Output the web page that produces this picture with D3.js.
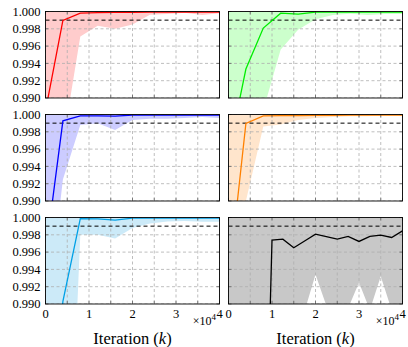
<!DOCTYPE html>
<html>
<head>
<meta charset="utf-8">
<script src="https://cdn.jsdelivr.net/npm/d3@7"></script>
<style>
  body { margin: 0; background: #fff; }
  text { font-family: "Liberation Serif", "DejaVu Serif", serif; fill: #000; }
</style>
</head>
<body>
<div class="canvas"></div>
<script>
// iterations (sampled every 4000, black run every 2500)
var iters = [0, 4000, 8000, 12000, 16000, 20000, 24000, 28000, 32000, 36000, 40000];
var itersBlack = [0, 2500, 5000, 7500, 10000, 12500, 15000, 17500, 20000, 22500,
                  25000, 27500, 30000, 32500, 35000, 37500, 40000];

// mean curves and lower bound of the min/max band (upper bound is 1.0)
var redMean = [0.9885, 0.99896, 0.99981, 0.99988, 0.9999, 0.99991, 0.99992, 0.99993, 0.99993, 0.99993, 0.99993];
var redLow = [0.960, 0.9848, 0.9971, 0.99835, 0.9980, 0.9985, 0.99962, 0.9997, 0.99985, 0.9996, 0.9998];

var greenMean = [0.9836, 0.99335, 0.99808, 0.99981, 0.9997, 0.99992, 0.99993, 0.99993, 0.99993, 0.99993, 0.99993];
var greenLow = [0.940, 0.960, 0.9886, 0.9956, 0.9979, 0.9991, 0.9996, 0.99975, 0.9996, 0.9997, 0.9997];

var blueMean = [0.9838, 0.99927, 0.99985, 0.99985, 0.99982, 0.99993, 0.99993, 0.99993, 0.99993, 0.99993, 0.99993];
var blueLow = [0.975, 0.9925, 0.9988, 0.9990, 0.9982, 0.99935, 0.9995, 0.9995, 0.9996, 0.9997, 0.9996];

var orangeMean = [0.9806, 0.99897, 0.99985, 0.99986, 0.99988, 0.9999, 0.99991, 0.99992, 0.99993, 0.99993, 0.99993];
var orangeLow = [0.975, 0.990, 0.9986, 0.99885, 0.99935, 0.9996, 0.9997, 0.9998, 0.9998, 0.9999, 0.9999];

var skyMean = [0.970, 0.9903, 0.99988, 0.99985, 0.9997, 0.99993, 0.99993, 0.99993, 0.99993, 0.99993, 0.99993];
var skyLow = [0.940, 0.950, 0.9980, 0.9980, 0.99758, 0.9988, 0.9993, 0.99955, 0.9996, 0.9995, 0.9995];

var blackMean = [0.90, 0.90, 0.90, 0.95, 0.99738, 0.9975, 0.9965, 0.99729, 0.99808, 0.9978, 0.9975,
                 0.99781, 0.99723, 0.99781, 0.99796, 0.99769, 0.99846];
var blackLow = [0.90, 0.90, 0.90, 0.90, 0.980, 0.982, 0.984, 0.9892, 0.9934, 0.9898, 0.985,
                0.9895, 0.9925, 0.9893, 0.9932, 0.9893, 0.985];

var yTicks = [0.990, 0.992, 0.994, 0.996, 0.998, 1.000];
var xTicks = [0, 10000, 20000, 30000, 40000];
var target = 0.999;

var panels = [
    {x: iters, mean: redMean, low: redLow, line: '#ff0000', fill: '#ffcccc', col: 0, row: 0},
    {x: iters, mean: greenMean, low: greenLow, line: '#00ee00', fill: '#ccffcc', col: 1, row: 0},
    {x: iters, mean: blueMean, low: blueLow, line: '#0000ff', fill: '#ccccff', col: 0, row: 1},
    {x: iters, mean: orangeMean, low: orangeLow, line: '#ff8000', fill: '#ffe5cc', col: 1, row: 1},
    {x: iters, mean: skyMean, low: skyLow, line: '#00a0e6', fill: '#cceaf8', col: 0, row: 2},
    {x: itersBlack, mean: blackMean, low: blackLow, line: '#000000', fill: '#c8c8c8', col: 1, row: 2}
];

// layout
var W = 408, H = 347,
    colX = [45.5, 228.5],
    rowY = [11.5, 114.5, 217.5],
    pw = 174,
    ph = 86.5;

var svg = d3.select('.canvas').append('svg')
    .attr('width', W)
    .attr('height', H);

var x = d3.scaleLinear().domain([0, 40000]).range([0, pw]);
var y = d3.scaleLinear().domain([0.990, 1.000]).range([ph, 0]);
var gridX = d3.range(0, 40001, 5000);

panels.forEach(function (p, i) {
    var g = svg.append('g')
        .attr('transform', 'translate(' + colX[p.col] + ',' + rowY[p.row] + ')');

    g.append('clipPath').attr('id', 'clip' + i)
        .append('rect').attr('width', pw).attr('height', ph);

    var body = g.append('g').attr('clip-path', 'url(#clip' + i + ')');

    var pts = p.x.map(function (v, j) {
        return {x: v, m: p.mean[j], lo: p.low[j], hi: 1.0};
    });

    body.append('path')
        .datum(pts)
        .attr('fill', p.fill)
        .attr('d', d3.area()
            .x(function (d) { return x(d.x); })
            .y0(function (d) { return y(d.lo); })
            .y1(function (d) { return y(d.hi) - 2; }));

    // grid
    body.selectAll('.gx').data(gridX).enter().append('line')
        .attr('x1', function (d) { return x(d); })
        .attr('x2', function (d) { return x(d); })
        .attr('y1', 0).attr('y2', ph)
        .attr('stroke', '#adadad').attr('stroke-width', 0.8)
        .attr('stroke-dasharray', '3,2.5');
    body.selectAll('.gy').data(yTicks).enter().append('line')
        .attr('y1', function (d) { return y(d); })
        .attr('y2', function (d) { return y(d); })
        .attr('x1', 0).attr('x2', pw)
        .attr('stroke', '#adadad').attr('stroke-width', 0.8)
        .attr('stroke-dasharray', '3,2.5');

    // target line
    body.append('line')
        .attr('x1', 0).attr('x2', pw)
        .attr('y1', y(target)).attr('y2', y(target))
        .attr('stroke', '#000').attr('stroke-width', 1)
        .attr('stroke-dasharray', '4,3');

    body.append('path')
        .datum(pts)
        .attr('fill', 'none')
        .attr('stroke', p.line)
        .attr('stroke-width', 1.3)
        .attr('d', d3.line()
            .x(function (d) { return x(d.x); })
            .y(function (d) { return y(d.m); }));

    // inner ticks
    gridX.forEach(function (t) {
        g.append('line').attr('x1', x(t)).attr('x2', x(t)).attr('y1', ph).attr('y2', ph - 3)
            .attr('stroke', '#444').attr('stroke-width', 0.6);
        g.append('line').attr('x1', x(t)).attr('x2', x(t)).attr('y1', 0).attr('y2', 3)
            .attr('stroke', '#444').attr('stroke-width', 0.6);
    });
    yTicks.forEach(function (t) {
        g.append('line').attr('x1', 0).attr('x2', 3).attr('y1', y(t)).attr('y2', y(t))
            .attr('stroke', '#444').attr('stroke-width', 0.6);
        g.append('line').attr('x1', pw).attr('x2', pw - 3).attr('y1', y(t)).attr('y2', y(t))
            .attr('stroke', '#444').attr('stroke-width', 0.6);
    });

    g.append('rect')
        .attr('width', pw).attr('height', ph)
        .attr('fill', 'none')
        .attr('stroke', '#000').attr('stroke-width', 0.9);

    if (p.col === 0) {
        g.selectAll('.yl').data(yTicks).enter().append('text')
            .attr('x', -5)
            .attr('y', function (d) { return y(d); })
            .attr('dy', '0.35em')
            .attr('text-anchor', 'end')
            .style('font-size', '12.5px')
            .text(function (d) { return d3.format('.3f')(d); });
    }

    if (p.row === 2) {
        g.selectAll('.xl').data(xTicks).enter().append('text')
            .attr('x', function (d) { return x(d); })
            .attr('y', ph + 14)
            .attr('text-anchor', 'middle')
            .style('font-size', '12.5px')
            .text(function (d) { return d / 10000; });

        var sc = g.append('text')
            .attr('x', pw - 3.5)
            .attr('y', ph + 20.5)
            .attr('text-anchor', 'end')
            .style('font-size', '12px');
        sc.append('tspan').text('\u00d710');
        sc.append('tspan').attr('dy', -4.5).style('font-size', '9px').text('4');

        var lab = g.append('text')
            .attr('x', pw / 2)
            .attr('y', ph + 40)
            .attr('text-anchor', 'middle')
            .style('font-size', '16.5px');
        lab.append('tspan').text('Iteration (');
        lab.append('tspan').style('font-style', 'italic').text('k');
        lab.append('tspan').text(')');
    }
});
</script>
</body>
</html>
